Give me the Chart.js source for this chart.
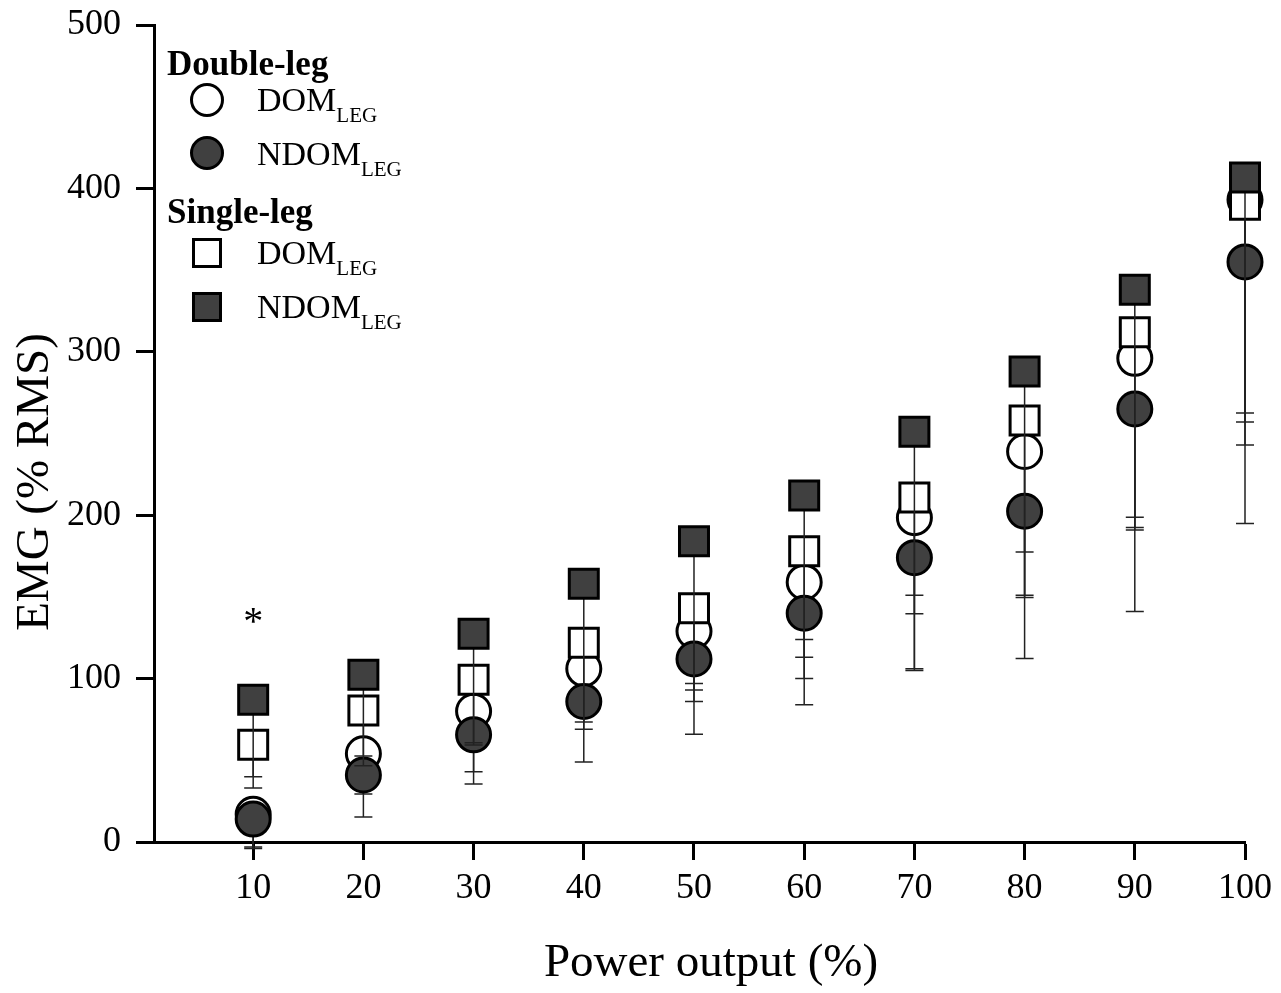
<!DOCTYPE html>
<html>
<head>
<meta charset="utf-8">
<script src="https://cdn.jsdelivr.net/npm/chart.js@4.4.0/dist/chart.umd.min.js"></script>
<style>
  html, body { margin: 0; padding: 0; background: #fff; }
  #chart-container { width: 1281px; height: 993px; }
</style>
</head>
<body>
<div id="chart-container">
  <canvas id="emgChart" width="1281" height="993"></canvas>
</div>
<script>
// power output levels (% of max)
const powerLevels = [10, 20, 30, 40, 50, 60, 70, 80, 90, 100];
const yTicks = [0, 100, 200, 300, 400, 500];

// double-leg cycling, mean EMG (% RMS)
const dlDomMean  = [17, 54, 80, 106, 129, 159, 198.5, 239, 296, 393];
const dlNdomMean = [14, 41, 65.6, 86, 112, 140, 174, 202.4, 265, 355];
// single-leg cycling
const slDomMean  = [59.5, 80.5, 99.3, 122, 143, 178, 210.8, 258, 312, 390];
const slNdomMean = [87, 102.3, 127.5, 158, 184, 212, 251, 288, 338, 406.7];

// lower end of the error bars (mean - SD)
const dlDomLow  = [-3, 29.4, 43, 80, 93, 100, 106, 149.6, 191, 243];
const dlNdomLow = [-4, 15.3, 35.5, 49, 66, 84, 105, 112.3, 141, 194.9];
const slDomLow  = [33, 46.6, 59.4, 69, 97, 124, 139.7, 151, 192.5, 257];
const slNdomLow = [40, 52.7, 60.7, 73.5, 86, 113, 151, 177.5, 198.7, 262.6];

// significance marks
const sigX = [10];
const sigY = [127];
const sigText = ['*'];

const serif = '"Liberation Serif", "Times New Roman", serif';
const darkFill = '#404040';

const toPoints = (vals) => vals.map((v, i) => ({ x: powerLevels[i], y: v }));

const makeSet = (label, mean, low, style, fill, radius, order) => ({
  label: label,
  data: toPoints(mean),
  errLow: low,
  pointStyle: style,
  pointRadius: radius,
  pointHoverRadius: radius,
  pointBorderWidth: 3,
  pointHoverBorderWidth: 3,
  pointBorderColor: '#000',
  pointBackgroundColor: fill,
  pointHoverBackgroundColor: fill,
  showLine: false,
  clip: false,
  order: order,
});

// draws the lower error bar of a series just before its markers
const errorBars = {
  id: 'errorBars',
  beforeDatasetDraw(chart, args) {
    const ds = chart.data.datasets[args.index];
    if (!ds.errLow) return;
    const ctx = chart.ctx;
    const yScale = chart.scales.y;
    ctx.save();
    ctx.strokeStyle = '#222';
    ctx.lineWidth = 1.5;
    args.meta.data.forEach((pt, i) => {
      const yLow = yScale.getPixelForValue(ds.errLow[i]);
      ctx.beginPath();
      ctx.moveTo(pt.x, pt.y);
      ctx.lineTo(pt.x, yLow);
      ctx.moveTo(pt.x - 9, yLow);
      ctx.lineTo(pt.x + 9, yLow);
      ctx.stroke();
    });
    ctx.restore();
  }
};

const drawMarker = (ctx, style, fill, x, y) => {
  ctx.save();
  ctx.fillStyle = fill;
  ctx.strokeStyle = '#000';
  ctx.lineWidth = 3;
  ctx.beginPath();
  if (style === 'circle') {
    ctx.arc(x, y, 15.5, 0, Math.PI * 2);
  } else {
    ctx.rect(x - 13.5, y - 13.5, 27, 27);
  }
  ctx.fill();
  ctx.stroke();
  ctx.restore();
};

const drawLabel = (ctx, main, sub, x, y) => {
  ctx.font = '34px ' + serif;
  ctx.fillText(main, x, y);
  const w = ctx.measureText(main).width;
  ctx.font = '21px ' + serif;
  ctx.fillText(sub, x + w, y + 11);
};

const textLayer = {
  id: 'textLayer',
  afterDraw(chart) {
    const ctx = chart.ctx;
    const xs = chart.scales.x;
    const ys = chart.scales.y;
    ctx.save();
    ctx.fillStyle = '#000';
    ctx.textBaseline = 'alphabetic';

    // axis titles
    ctx.font = '47px ' + serif;
    ctx.textAlign = 'center';
    ctx.fillText('Power output (%)', 711, 976);
    ctx.save();
    ctx.translate(48, 482);
    ctx.rotate(-Math.PI / 2);
    ctx.fillText('EMG (% RMS)', 0, 0);
    ctx.restore();

    // significance marks
    ctx.font = '40px ' + serif;
    sigX.forEach((v, i) => {
      ctx.fillText(sigText[i], xs.getPixelForValue(v), ys.getPixelForValue(sigY[i]));
    });

    // legend
    ctx.textAlign = 'left';
    ctx.font = 'bold 35px ' + serif;
    ctx.fillText('Double-leg', 167, 75);
    drawMarker(ctx, 'circle', '#fff', 207, 100);
    drawLabel(ctx, 'DOM', 'LEG', 257, 111);
    drawMarker(ctx, 'circle', darkFill, 207, 153);
    drawLabel(ctx, 'NDOM', 'LEG', 257, 165);

    ctx.font = 'bold 35px ' + serif;
    ctx.fillText('Single-leg', 167, 223);
    drawMarker(ctx, 'rect', '#fff', 207, 253);
    drawLabel(ctx, 'DOM', 'LEG', 257, 264);
    drawMarker(ctx, 'rect', darkFill, 207, 307);
    drawLabel(ctx, 'NDOM', 'LEG', 257, 318);
    ctx.restore();
  }
};

const tickFont = { family: serif, size: 36 };

new Chart(document.getElementById('emgChart').getContext('2d'), {
  type: 'scatter',
  data: {
    datasets: [
      makeSet('Double-leg DOM', dlDomMean, dlDomLow, 'circle', '#fff', 17, 4),
      makeSet('Double-leg NDOM', dlNdomMean, dlNdomLow, 'circle', darkFill, 17, 3),
      makeSet('Single-leg DOM', slDomMean, slDomLow, 'rect', '#fff', 20.5, 2),
      makeSet('Single-leg NDOM', slNdomMean, slNdomLow, 'rect', darkFill, 20.5, 1),
    ],
  },
  options: {
    responsive: false,
    animation: false,
    events: [],
    layout: { padding: { top: 25, right: 36, left: 0, bottom: 0 } },
    plugins: {
      legend: { display: false },
      tooltip: { enabled: false },
    },
    scales: {
      x: {
        type: 'linear',
        min: 1,
        max: 100,
        afterBuildTicks: (scale) => {
          scale.ticks = powerLevels.map((v) => ({ value: v }));
        },
        afterFit: (scale) => {
          scale.height = 151;
          scale.paddingLeft = 0;
          scale.paddingRight = 0;
        },
        grid: {
          drawOnChartArea: false,
          drawTicks: true,
          tickLength: 18,
          tickWidth: 3,
          tickColor: '#000',
        },
        border: { display: true, color: '#000', width: 3 },
        ticks: { font: tickFont, color: '#000', padding: 7, maxRotation: 0, autoSkip: false },
      },
      y: {
        min: 0,
        max: 500,
        afterBuildTicks: (scale) => {
          scale.ticks = yTicks.map((v) => ({ value: v }));
        },
        afterFit: (scale) => {
          scale.width = 154;
          scale.paddingTop = 0;
          scale.paddingBottom = 0;
        },
        grid: {
          drawOnChartArea: false,
          drawTicks: true,
          tickLength: 18,
          tickWidth: 3,
          tickColor: '#000',
        },
        border: { display: true, color: '#000', width: 3 },
        ticks: { font: tickFont, color: '#000', padding: 15 },
      },
    },
  },
  plugins: [errorBars, textLayer],
});
</script>
</body>
</html>
